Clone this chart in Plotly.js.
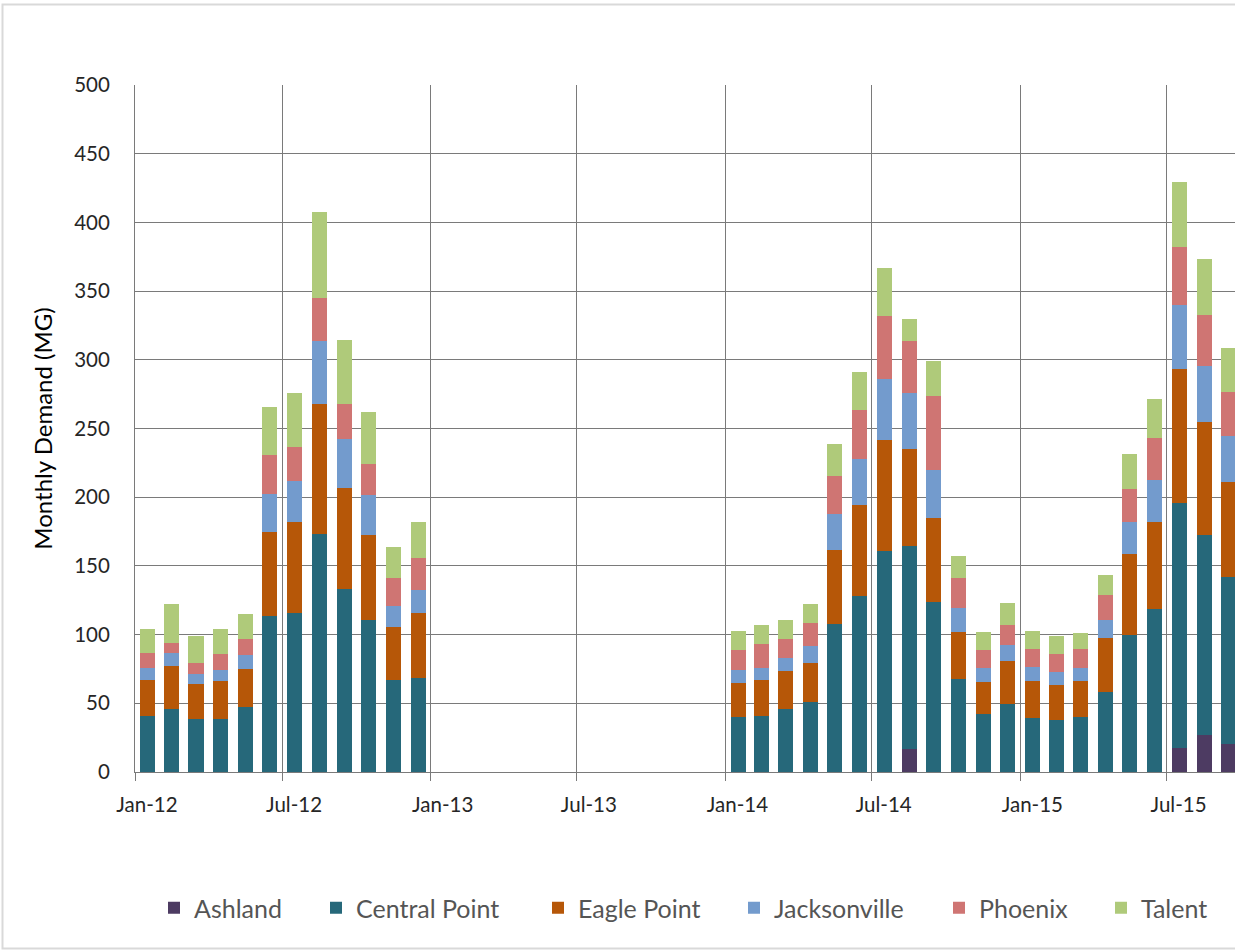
<!DOCTYPE html>
<html>
<head>
<meta charset="utf-8">
<script src="https://cdn.plot.ly/plotly-3.0.1.min.js"></script>
<style>
  html, body { margin: 0; padding: 0; background: #ffffff; overflow: hidden; }
  #chart { width: 1235px; height: 950px; }
</style>
</head>
<body>
<div id="chart"></div>
<script>
// ---- Data ----
const months = [
  '2012-01','2012-02','2012-03','2012-04','2012-05','2012-06',
  '2012-07','2012-08','2012-09','2012-10','2012-11','2012-12',
  '2014-01','2014-02','2014-03','2014-04','2014-05','2014-06',
  '2014-07','2014-08','2014-09','2014-10','2014-11','2014-12',
  '2015-01','2015-02','2015-03','2015-04','2015-05','2015-06',
  '2015-07','2015-08','2015-09'
];

const seriesNames = ['Ashland', 'Central Point', 'Eagle Point', 'Jacksonville', 'Phoenix', 'Talent'];

const ashland = [
  0, 0, 0, 0, 0, 0, 0, 0, 0, 0, 0, 0,
  0, 0, 0, 0, 0, 0, 0, 17.0, 0, 0, 0, 0,
  0, 0, 0, 0, 0, 0, 17.6, 27.2, 20.7
];
const centralPoint = [
  41.1, 45.7, 38.4, 38.4, 47.0, 113.7, 115.9, 173.4, 133.1, 110.5, 66.7, 68.3,
  40.1, 40.9, 45.6, 51.2, 107.4, 127.8, 160.6, 147.3, 123.4, 68.0, 41.9, 49.3,
  39.1, 38.2, 40.2, 58.1, 100.0, 118.4, 178.4, 145.6, 121.2
];
const eaglePoint = [
  26.1, 31.7, 25.3, 28.0, 27.7, 61.0, 66.1, 94.3, 73.4, 62.1, 38.9, 47.6,
  24.4, 26.3, 28.0, 28.4, 53.9, 66.5, 81.3, 70.9, 61.6, 33.7, 23.6, 31.7,
  27.2, 25.3, 26.1, 39.1, 58.6, 63.5, 97.2, 82.2, 68.9
];
const jacksonville = [
  8.3, 9.2, 7.5, 8.1, 10.2, 27.7, 29.8, 45.7, 36.2, 29.0, 15.1, 16.9,
  9.4, 8.4, 9.4, 11.8, 26.4, 33.5, 43.8, 40.4, 34.7, 17.8, 10.1, 11.4,
  10.2, 9.3, 9.1, 13.6, 23.3, 30.8, 46.7, 40.2, 34.0
];
const phoenix = [
  11.3, 7.2, 8.4, 11.5, 12.1, 28.2, 24.5, 31.8, 25.3, 22.6, 20.2, 23.1,
  14.8, 17.7, 14.0, 17.0, 27.8, 35.7, 46.1, 38.4, 54.2, 21.6, 13.1, 14.7,
  13.0, 13.0, 14.1, 18.1, 24.3, 30.4, 42.3, 37.4, 31.7
];
const talent = [
  17.0, 28.5, 19.3, 17.8, 18.1, 35.0, 39.2, 62.3, 46.2, 37.9, 22.5, 26.1,
  14.0, 13.4, 13.8, 14.0, 23.4, 27.9, 35.2, 15.8, 25.1, 15.8, 13.0, 16.1,
  12.8, 13.4, 11.9, 14.7, 25.2, 28.3, 47.3, 40.8, 32.3
];

const seriesValues = [ashland, centralPoint, eaglePoint, jacksonville, phoenix, talent];

// ---- Styles ----
const colors = ['#4d3b62', '#26687a', '#b65708', '#739bcd', '#cf7573', '#afca7a'];
const legendLeftPx = [154, 316, 538, 734, 939, 1101];   // legend entry positions (px)
const FONT = 'Lato, "Open Sans", "Liberation Sans", sans-serif';
const GRID = '#7a7a7a';
const DAY_MS = 86400000;

const traces = seriesNames.map((name, i) => ({
  type: 'bar',
  name: name,
  x: months,
  y: seriesValues[i],
  xperiod: 'M1',
  xperiodalignment: 'middle',
  width: 18.6 * DAY_MS,
  marker: { color: colors[i], line: { width: 0 } },
  legend: i === 0 ? 'legend' : 'legend' + (i + 1),
  hoverinfo: 'x+y+name'
}));

const layout = {
  width: 1235,
  height: 950,
  margin: { l: 135, r: 0, t: 85, b: 178 },
  paper_bgcolor: '#ffffff',
  plot_bgcolor: '#ffffff',
  barmode: 'stack',
  font: { family: FONT, color: '#333333' },
  xaxis: {
    type: 'date',
    range: ['2012-01-01', '2015-09-23 18:00'],
    tick0: '2012-01-01',
    dtick: 'M6',
    tickformat: '%b-%y',
    ticklabelshift: 12,
    ticks: 'outside',
    ticklen: 8,
    tickwidth: 1,
    tickcolor: GRID,
    ticklabelstandoff: 6,
    showgrid: true,
    gridcolor: GRID,
    gridwidth: 1,
    showline: true,
    linecolor: GRID,
    linewidth: 1,
    zeroline: false,
    tickfont: { family: FONT, size: 20.5, color: '#262626' },
    fixedrange: true
  },
  yaxis: {
    range: [0, 500],
    tick0: 0,
    dtick: 50,
    ticks: '',
    ticklabelstandoff: 20,
    showgrid: true,
    gridcolor: GRID,
    gridwidth: 1,
    showline: true,
    linecolor: GRID,
    linewidth: 1,
    zeroline: false,
    tickfont: { family: FONT, size: 20.5, color: '#262626' },
    title: {
      text: 'Monthly Demand (MG)',
      font: { family: FONT, size: 24, color: '#000000' },
      standoff: 14
    },
    fixedrange: true
  },
  shapes: [{
    type: 'rect',
    xref: 'paper', yref: 'paper',
    x0: (2.5 - 135) / 1100, x1: 1.05,
    y0: (772 - 948.5) / 687, y1: (772 - 4.5) / 687,
    line: { color: '#d9d9d9', width: 2 },
    fillcolor: 'rgba(0,0,0,0)',
    layer: 'below'
  }],
  showlegend: true
};

legendLeftPx.forEach((px, i) => {
  const key = i === 0 ? 'legend' : 'legend' + (i + 1);
  layout[key] = {
    orientation: 'h',
    xref: 'container', yref: 'container',
    x: px / 1235,
    xanchor: 'left',
    y: 1 - 908 / 950,
    yanchor: 'middle',
    bgcolor: 'rgba(0,0,0,0)',
    borderwidth: 0,
    font: { family: FONT, size: 25, color: '#555555' }
  };
});

Plotly.newPlot('chart', traces, layout, { displayModeBar: false, staticPlot: true });
</script>
</body>
</html>
